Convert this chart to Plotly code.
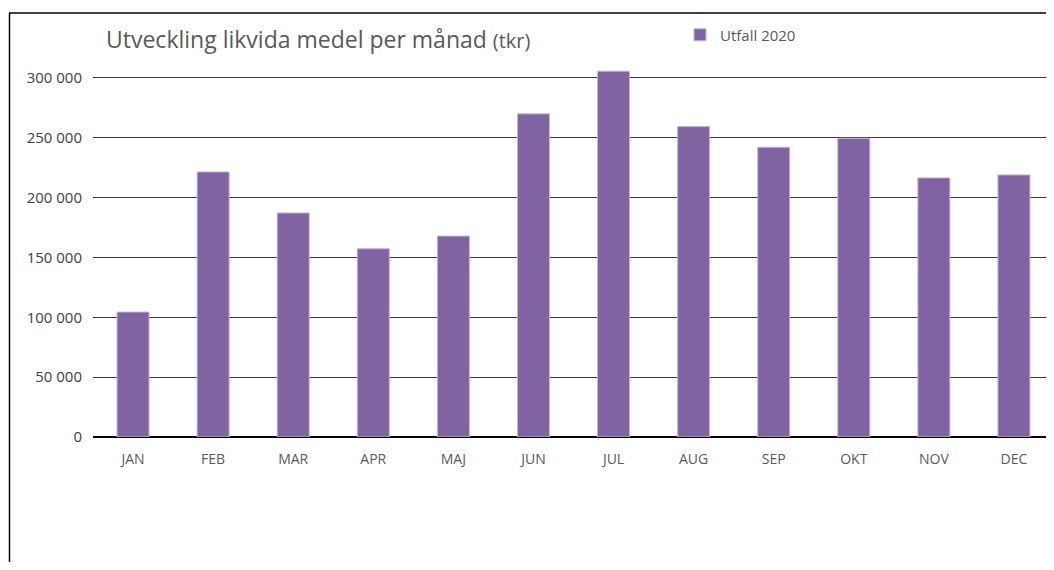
import plotly.graph_objects as go

months = ["JAN", "FEB", "MAR", "APR", "MAJ", "JUN", "JUL", "AUG", "SEP", "OKT", "NOV", "DEC"]
utfall_2020 = [104400, 221500, 187200, 157300, 167900, 270000, 305700, 259400, 242100, 249600, 216500, 219000]
y_ticks = [0, 50000, 100000, 150000, 200000, 250000, 300000]
series_name = "Utfall 2020"

# page body has an 8px margin; compensate so window positions match
OFF = 8
W, H = 1054, 570 - 2 * OFF
ML = 93 - OFF
MR = W - (1054 - OFF) + 0
MT = 66 - OFF
MB = H - (437 - OFF)
YMAX = 310000

fig = go.Figure()
fig.add_trace(go.Bar(
    x=months, y=utfall_2020, name=series_name,
    marker=dict(color="#8064A2", line=dict(color="#C4B5D8", width=1)),
    showlegend=True,
))

pw = W - ML - MR
ph = H - MT - MB
def px_to_paper_x(px):  # px in window coordinates
    return (px - OFF - ML) / pw
def px_to_paper_y(py):
    return (H - MB - (py - OFF)) / ph

# outer frame (left and top lines)
fig.add_shape(type="line", xref="paper", yref="paper",
              x0=px_to_paper_x(9.5), x1=px_to_paper_x(9.5),
              y0=px_to_paper_y(13), y1=px_to_paper_y(600),
              line=dict(color="#000000", width=1.5))
fig.add_shape(type="line", xref="paper", yref="paper",
              x0=px_to_paper_x(9), x1=px_to_paper_x(1100),
              y0=px_to_paper_y(13), y1=px_to_paper_y(13),
              line=dict(color="#000000", width=1.5))
# gridlines continue to the right window edge
for v in y_ticks[1:]:
    fig.add_shape(type="line", xref="paper", yref="y",
                  x0=1, x1=px_to_paper_x(1100), y0=v, y1=v,
                  line=dict(color="#3a3a3a", width=1))
fig.add_shape(type="line", xref="paper", yref="y",
              x0=1, x1=px_to_paper_x(1100), y0=0, y1=0,
              line=dict(color="#000000", width=1.5))

fig.add_annotation(
    xref="paper", yref="paper",
    x=px_to_paper_x(104), y=px_to_paper_y(39),
    xanchor="left", yanchor="middle", showarrow=False,
    text="Utveckling likvida medel per månad <span style='font-size:20px'>(tkr)</span>",
    font=dict(family="Open Sans", size=23, color="#595959"),
)

fig.update_layout(
    width=W, height=H,
    margin=dict(l=ML, r=MR, t=MT, b=MB),
    paper_bgcolor="white", plot_bgcolor="white",
    separators=", ",
    bargap=0.6,
    font=dict(family="Open Sans", color="#595959"),
    legend=dict(
        x=px_to_paper_x(680), y=px_to_paper_y(35), xanchor="left", yanchor="middle",
        orientation="h", font=dict(family="Open Sans", size=15, color="#595959"),
        bgcolor="rgba(0,0,0,0)",
    ),
    xaxis=dict(
        showgrid=False, showline=False, zeroline=False,
        tickfont=dict(family="Open Sans", size=14, color="#595959"),
        ticks="", ticklabelstandoff=12,
    ),
    yaxis=dict(
        range=[0, YMAX], tickvals=y_ticks, tickformat=",d",
        showgrid=True, gridcolor="#3a3a3a", gridwidth=1,
        zeroline=True, zerolinecolor="#000000", zerolinewidth=1.5,
        showline=False, ticks="",
        tickfont=dict(family="Open Sans", size=15, color="#404040"),
        ticklabelstandoff=10,
    ),
)

fig.write_html("out.html")
